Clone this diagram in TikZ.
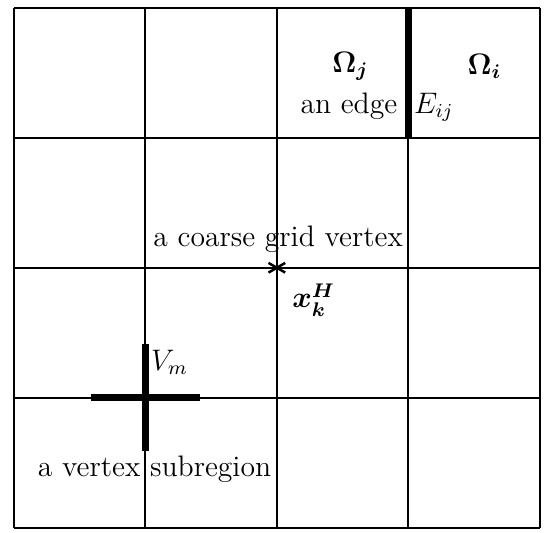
\documentclass[tikz,border=0pt]{standalone}
\usepackage{amsmath, amssymb}
\usepackage{tikz}
\usetikzlibrary{positioning}

\begin{document}
\begin{tikzpicture}[x=1.87cm, y=1.849cm, font=\large, >=stealth,
		gridline/.style={line width=0.8pt},
		subline/.style={line width=2.8pt},
		lbl/.style={inner sep=0pt}]
				\useasboundingbox (-0.106,-0.04) rectangle (4.04,4.06);
				\draw [gridline, step=1] (0,0) grid (4,4);
				
				% edge between the two subdomains
				\draw [subline] (3,3) -- (3,4);
				\node [lbl] (omj) at (2.56,3.55) {$\boldsymbol{\Omega_j}$};
				\node [lbl] (omi) at (3.58,3.55) {$\boldsymbol{\Omega_i}$};
				\node [lbl, anchor=base east] (edge) at (2.92,3.19) {an edge};
				\node [lbl, anchor=base west] (eij) at (3.04,3.19) {$E_{ij}$};
				
				% coarse vertex
				\node [circle, inner sep=0pt, minimum size=0.26cm] (vtx) at (2,2) {};
				\draw [line width=1pt] (vtx.90) -- (vtx.270);
				\draw [line width=1pt] (vtx.30) -- (vtx.210);
				\draw [line width=1pt] (vtx.150) -- (vtx.330);
				\node [lbl, anchor=base] (cgv) at (2.01,2.16) {a coarse grid vertex};
				\node [lbl] (xkh) at (2.28,1.75) {$\boldsymbol{x_k^H}$};
				
				% vertex subregion
				\coordinate (vm) at (1,1);
				\draw [subline] ([xshift=-0.77cm]vm) -- ([xshift=0.77cm]vm);
				\draw [subline] ([yshift=-0.76cm]vm) -- ([yshift=0.76cm]vm);
				\node [lbl, anchor=west] (vmlbl) at (1.04,1.27) {$V_m$};
				\node [lbl] (vsub) at (1.07,0.45) {a vertex subregion};
			\end{tikzpicture}
\end{document}
